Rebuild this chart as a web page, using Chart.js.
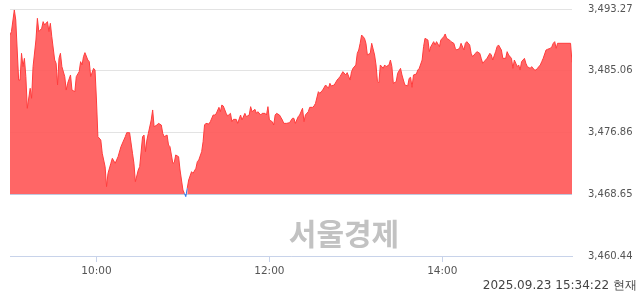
<!DOCTYPE html>
<html>
<head>
<meta charset="utf-8">
<script src="https://cdn.jsdelivr.net/npm/chart.js@4/dist/chart.umd.min.js"></script>
<style>
  html, body { margin: 0; padding: 0; background: #fff; }
  #wrap { width: 640px; height: 294px; }
</style>
</head>
<body>
<div id="wrap"><canvas id="myChart" width="640" height="294"></canvas></div>
<script>
// minutes after 09:00
const minutes = [
  0,1,3,4,6,7,8,9,10,11,
  12,14,15,16,18,19,20,22,23,24,
  26,27,28,29,31,32,33,34,35,36,
  38,39,40,42,43,45,46,48,49,50,
  51,52,54,55,56,58,59,60,61,63,
  64,66,67,68,70,71,73,74,75,77,
  79,80,81,83,85,86,87,89,90,92,
  93,94,95,96,98,99,100,102,103,105,
  106,107,109,110,111,113,114,115,117,118,
  120,121,122,123,124,126,127,129,130,131,
  133,134,135,136,138,139,141,142,143,145,
  146,147,148,150,151,153,154,155,157,158,
  160,161,163,164,166,167,168,170,171,172,
  174,175,177,178,179,180,182,183,184,185,
  187,189,190,192,194,196,197,198,200,201,
  203,204,205,207,208,210,211,212,214,215,
  217,219,221,222,223,225,227,228,229,231,
  233,234,236,237,238,240,241,242,243,244,
  246,247,248,250,251,253,254,255,256,257,
  259,260,261,263,264,265,266,268,269,271,
  272,273,274,276,277,278,279,280,282,283,
  284,286,287,288,290,291,292,294,295,296,
  298,299,301,302,303,305,306,308,309,310,
  312,313,315,316,317,319,320,321,323,324,
  326,327,328,330,331,333,334,335,337,338,
  339,341,342,344,345,346,348,349,350,352,
  353,354,355,357,358,359,361,362,364,365,
  366,368,369,370,372,373,375,376,377,378,
  379,380,389,390
];
const kospi = [
  3489.81,3490.26,3493.14,3491.81,3483.83,3483.83,3487.38,3485.61,3486.71,3484.28,
  3480.07,3482.73,3481.40,3485.61,3489.15,3492.03,3490.26,3490.70,3491.59,3491.14,
  3491.59,3490.26,3491.37,3489.59,3486.49,3486.05,3483.17,3486.71,3487.38,3485.61,
  3484.28,3482.50,3483.39,3484.50,3482.50,3482.28,3484.28,3484.94,3486.27,3485.83,
  3486.93,3487.47,3486.49,3486.27,3484.28,3485.38,3485.16,3481.17,3476.30,3475.86,
  3474.09,3472.31,3469.66,3471.42,3472.76,3473.42,3472.76,3473.20,3473.64,3474.97,
  3475.86,3476.30,3476.83,3476.83,3474.09,3472.76,3470.32,3471.87,3472.31,3476.30,
  3476.52,3474.31,3475.86,3476.74,3478.52,3479.85,3477.63,3477.85,3478.07,3477.85,
  3476.74,3476.30,3476.52,3475.19,3474.97,3472.76,3472.85,3473.87,3473.64,3471.87,
  3469.21,3468.77,3468.33,3469.44,3470.54,3471.65,3471.42,3472.09,3472.98,3473.20,
  3474.31,3475.64,3477.85,3478.07,3477.98,3478.29,3479.18,3479.18,3479.31,3480.20,
  3479.62,3480.51,3480.38,3479.40,3479.05,3479.40,3478.29,3478.60,3478.60,3478.07,
  3479.18,3478.52,3479.40,3478.96,3479.18,3480.29,3479.62,3479.93,3479.40,3479.62,
  3479.18,3479.40,3479.40,3479.18,3480.29,3478.52,3478.29,3477.85,3479.18,3479.40,
  3479.18,3478.52,3478.07,3478.07,3478.16,3478.74,3478.74,3478.07,3478.96,3479.18,
  3480.07,3478.29,3479.18,3479.62,3480.20,3480.20,3480.38,3480.73,3482.28,3482.06,
  3482.50,3483.17,3482.73,3483.39,3483.04,3483.17,3483.83,3484.05,3484.28,3484.94,
  3484.50,3484.81,3483.83,3484.94,3485.38,3485.83,3487.38,3487.82,3488.71,3489.81,
  3489.37,3488.71,3487.16,3487.38,3488.71,3487.16,3485.83,3483.61,3483.48,3485.83,
  3485.38,3485.83,3485.61,3485.83,3486.49,3485.61,3483.39,3483.61,3484.72,3485.38,
  3484.50,3483.83,3483.17,3483.04,3484.05,3484.19,3482.86,3484.50,3484.63,3485.16,
  3485.38,3486.49,3488.26,3489.37,3489.15,3487.60,3488.26,3488.93,3488.49,3488.93,
  3488.26,3489.15,3489.59,3489.95,3489.37,3489.15,3488.93,3488.71,3488.04,3487.82,
  3488.04,3488.71,3487.82,3488.71,3488.93,3488.49,3487.38,3486.93,3487.38,3487.60,
  3487.38,3486.71,3486.05,3486.49,3486.71,3487.38,3487.16,3486.49,3487.60,3488.26,
  3488.49,3487.82,3486.71,3486.71,3487.60,3487.16,3486.71,3485.38,3486.49,3485.61,
  3485.83,3485.16,3486.27,3486.71,3486.05,3485.61,3485.38,3485.61,3485.16,3485.16,
  3485.38,3485.83,3486.27,3486.71,3487.82,3487.91,3488.04,3488.26,3488.71,3488.93,
  3488.04,3488.71,3488.71,3486.19
];
const prevClose = 3468.65;
const yTicks = [3460.44, 3468.65, 3476.86, 3485.06, 3493.27];
const xTicks = [60, 180, 300];
const xTickLabels = ['10:00', '12:00', '14:00'];
const stamp = '2025.09.23 15:34:22 현재';
const watermark = '서울경제';

const RED = '#ff3c3c';
const BLUE = '#2f7bf0';

const extras = {
  id: 'extras',
  afterDraw(chart) {
    const c = chart.ctx;
    c.save();
    c.fillStyle = '#c2c2c2';
    c.font = 'bold 30px "Noto Sans CJK KR"';
    c.textAlign = 'center';
    c.textBaseline = 'middle';
    c.fillText(watermark, 344, 234);
    c.fillStyle = '#444';
    c.font = '12px "DejaVu Sans"';
    c.textAlign = 'right';
    c.textBaseline = 'alphabetic';
    c.fillText(stamp, 637, 289);
    c.restore();
  }
};

const ctx = document.getElementById('myChart').getContext('2d');
const myChart = new Chart(ctx, {
  type: 'line',
  data: {
    datasets: [{
      data: minutes.map((m, i) => ({ x: m, y: kospi[i] })),
      borderColor: RED,
      borderWidth: 1,
      pointRadius: 0,
      tension: 0,
      fill: { target: { value: prevClose }, above: 'rgba(255,90,90,0.93)', below: BLUE },
      segment: {
        borderColor: s => (s.p0.parsed.y < prevClose || s.p1.parsed.y < prevClose) ? BLUE : RED
      }
    }]
  },
  options: {
    responsive: false,
    animation: false,
    layout: { padding: { left: 10, top: 9, right: 0, bottom: 0 } },
    plugins: { legend: { display: false }, tooltip: { enabled: false } },
    scales: {
      x: {
        type: 'linear',
        min: 0,
        max: 390,
        afterBuildTicks: axis => { axis.ticks = xTicks.map(v => ({ value: v })); },
        afterFit: axis => { axis.height = 38; },
        grid: { drawOnChartArea: false, drawTicks: true, tickLength: 6, color: '#c8d3ea' },
        border: { color: '#c8d3ea' },
        ticks: {
          padding: 3,
          color: '#555',
          font: { family: 'DejaVu Sans', size: 10.5 },
          maxRotation: 0,
          callback: v => xTickLabels[xTicks.indexOf(v)]
        }
      },
      y: {
        position: 'right',
        min: yTicks[0],
        max: yTicks[yTicks.length - 1],
        afterBuildTicks: axis => { axis.ticks = yTicks.map(v => ({ value: v })); },
        afterFit: axis => { axis.width = 68; },
        // invisible tick marks push the labels right without padding the plot top
        grid: { color: '#e3e3e3', drawTicks: true, tickLength: 16, tickColor: 'rgba(0,0,0,0)' },
        border: { display: false },
        ticks: {
          padding: 0,
          color: '#555',
          font: { family: 'DejaVu Sans', size: 10 },
          callback: v => v.toLocaleString('en-US', { minimumFractionDigits: 2, maximumFractionDigits: 2 })
        }
      }
    }
  },
  plugins: [extras]
});
</script>
</body>
</html>
